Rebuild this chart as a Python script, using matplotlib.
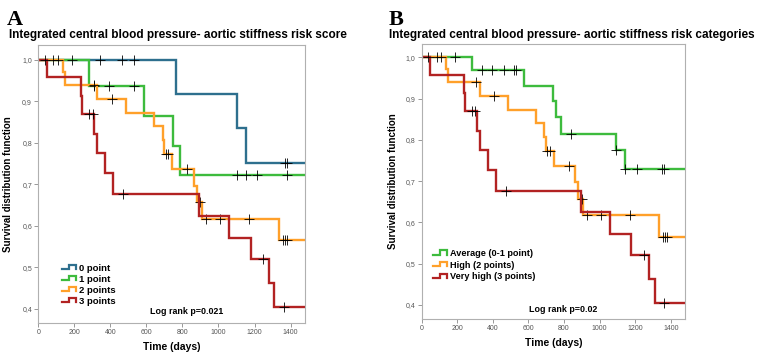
import matplotlib
matplotlib.use("Agg")
import matplotlib.pyplot as plt
import numpy as np
from matplotlib.lines import Line2D
from matplotlib.legend_handler import HandlerBase

plt.rcParams['font.family'] = ['Liberation Sans', 'DejaVu Sans']

# ---- data ----
# panel A: risk score groups
a0_times = [765, 1105, 1155]
a0_surv = [0.917, 0.836, 0.752]
a0_cens = [340, 464, 529, 1369, 1378]

a1_times = [284, 585, 748, 789]
a1_surv = [0.9375, 0.865, 0.793, 0.722]
a1_cens = [186, 310, 390, 529, 1105, 1155, 1216, 1383]

# "2 points" / "High" is the same group in both panels
a2_times = [135, 149, 328, 484, 641, 690, 699, 742, 864, 880, 906, 1334]
a2_surv = [0.971, 0.94, 0.907, 0.873, 0.84, 0.807, 0.773, 0.737, 0.697, 0.657, 0.617, 0.565]
a2_cens = [84, 111, 308, 408, 706, 722, 826, 900, 928, 1008, 1169, 1357, 1368, 1381]

# "3 points" / "Very high"
a3_times = [48, 237, 241, 311, 325, 370, 417, 894, 1056, 1178, 1279, 1310]
a3_surv = [0.958, 0.913, 0.870, 0.822, 0.775, 0.727, 0.676, 0.625, 0.572, 0.52, 0.462, 0.404]
a3_cens = [37, 280, 302, 472, 1247, 1362]

# panel B: average group (0-1 point)
b_avg_times = [285, 577, 738, 753, 781, 1094, 1144]
b_avg_surv = [0.968, 0.931, 0.894, 0.856, 0.815, 0.776, 0.73]
b_avg_cens = [186, 340, 396, 465, 521, 530, 841, 1094, 1144, 1209, 1352, 1363]

labels_a = ["0 point", "1 point", "2 points", "3 points"]
labels_b = ["Average (0-1 point)", "High (2 points)", "Very high (3 points)"]

c_blue, c_green, c_orange, c_red = "#2e6f8e", "#3dbb3d", "#ffa02a", "#b22222"
x_end = 1480


class StepHandler(HandlerBase):
    def create_artists(self, legend, orig, xd, yd, w, h, fs, trans):
        xs = [0, 0.45 * w, 0.45 * w, 0.85 * w, 0.85 * w]
        ys = [0.2 * h, 0.2 * h, 0.85 * h, 0.85 * h, 0.2 * h]
        ln = Line2D(np.array(xs) - xd, np.array(ys) - yd, color=orig.get_color(),
                    lw=1.6, solid_joinstyle='miter', transform=trans)
        return [ln]


def km(ax, times, surv, cens, color):
    t = np.array([0] + list(times) + [x_end])
    s = np.array([1.0] + list(surv) + [surv[-1]])
    ax.step(t, s, where='post', color=color, lw=1.7, solid_joinstyle='miter')
    idx = np.searchsorted(t, cens, side='right') - 1
    ax.plot(cens, s[idx], '+', color='black', ms=7, mew=0.6)
    return Line2D([], [], color=color)


def style(ax, ymax, ylab_x, xlab_y):
    ax.set_xlim(0, x_end)
    ax.set_ylim(0.366, ymax)
    ax.set_xticks(range(0, 1401, 200))
    ax.set_yticks([0.4, 0.5, 0.6, 0.7, 0.8, 0.9, 1.0])
    ax.set_yticklabels([f"{v:.1f}".replace('.', ',') for v in [0.4, 0.5, 0.6, 0.7, 0.8, 0.9, 1.0]])
    ax.tick_params(labelsize=5, colors='#888888', labelcolor='#555555', length=3, width=0.6, pad=1.5)
    for sp in ax.spines.values():
        sp.set_color('#b0b0b0')
        sp.set_linewidth(0.8)
    ax.set_xlabel("Time (days)", fontsize=7.5, fontweight='bold')
    ax.set_ylabel("Survival distribution function", fontsize=7, fontweight='bold')
    ax.yaxis.set_label_coords(ylab_x, 0.5)
    ax.xaxis.set_label_coords(0.5, xlab_y)


fig = plt.figure(figsize=(7.59, 3.52), dpi=100)
axA = fig.add_axes([0.0505, 0.0824, 0.3513, 0.7898])
axB = fig.add_axes([0.5556, 0.0938, 0.3469, 0.7812])

# panel A
h0 = km(axA, a0_times, a0_surv, a0_cens, c_blue)
h1 = km(axA, a1_times, a1_surv, a1_cens, c_green)
h2 = km(axA, a2_times, a2_surv, a2_cens, c_orange)
h3 = km(axA, a3_times, a3_surv, a3_cens, c_red)
style(axA, 1.036, -0.095, -0.07)
axA.legend([h0, h1, h2, h3], labels_a, handler_map={Line2D: StepHandler()},
           loc='lower left', bbox_to_anchor=(0.07, 0.045), frameon=False,
           prop={'size': 6.8, 'weight': 'bold'}, handlelength=1.8, handletextpad=0.05,
           labelspacing=0.22, borderpad=0)
axA.text(823, 0.394, "Log rank p=0.021", fontsize=6.4, fontweight='bold', ha='center', va='center')

# panel B
hb0 = km(axB, b_avg_times, b_avg_surv, b_avg_cens, c_green)
hb1 = km(axB, a2_times, a2_surv, a2_cens, c_orange)
hb2 = km(axB, a3_times, a3_surv, a3_cens, c_red)
style(axB, 1.032, -0.09, -0.07)
axB.legend([hb0, hb1, hb2], labels_b, handler_map={Line2D: StepHandler()},
           loc='lower left', bbox_to_anchor=(0.025, 0.12), frameon=False,
           prop={'size': 6.6, 'weight': 'bold'}, handlelength=1.8, handletextpad=0.05,
           labelspacing=0.3, borderpad=0)
axB.text(795, 0.389, "Log rank p=0.02", fontsize=6.4, fontweight='bold', ha='center', va='center')

# panel letters and titles
fig.text(0.009, 0.93, "A", fontsize=16, fontweight='bold', family='Liberation Serif', va='baseline')
fig.text(0.512, 0.93, "B", fontsize=16, fontweight='bold', family='Liberation Serif', va='baseline')
fig.text(0.012, 0.9, "Integrated central blood pressure- aortic stiffness risk score",
         fontsize=8.5, fontweight='bold', va='center')
fig.text(0.513, 0.9, "Integrated central blood pressure- aortic stiffness risk categories",
         fontsize=8.5, fontweight='bold', va='center')

fig.savefig("out.png", dpi=100)
